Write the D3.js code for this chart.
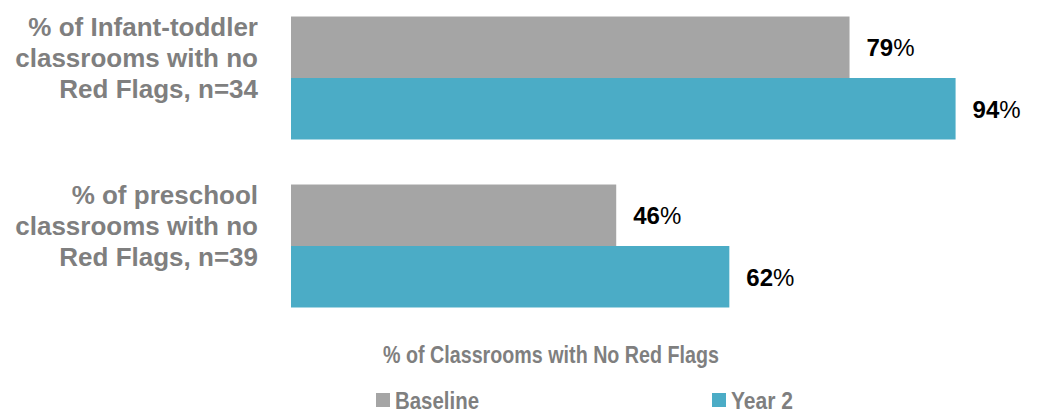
<!DOCTYPE html>
<html><head><meta charset="utf-8">
<script src="https://cdn.jsdelivr.net/npm/d3@7"></script>
<style>body{margin:0;background:#fff}svg{display:block}</style>
</head><body>
<svg id="c" width="1039" height="413"></svg>
<script>
const categories = [
  ["% of Infant-toddler", "classrooms with no", "Red Flags, n=34"],
  ["% of preschool", "classrooms with no", "Red Flags, n=39"]
];
const seriesNames = ["Baseline", "Year 2"];
const baseline = [79, 46];
const year2 = [94, 62];
const colors = ["#a5a5a5", "#4bacc6"];
const axisTitle = "% of Classrooms with No Red Flags";

const svg = d3.select("#c");
const x = d3.scaleLinear().domain([0, 100]).range([291, 998]);
const y = d3.scaleBand().domain(d3.range(categories.length)).range([-6, 330]).paddingInner(0.268).paddingOuter(0.134);
const ys = d3.scaleBand().domain(seriesNames).range([0, y.bandwidth()]);

const data = [];
categories.forEach((c, i) => {
  data.push({cat: i, s: seriesNames[0], v: baseline[i]});
  data.push({cat: i, s: seriesNames[1], v: year2[i]});
});
const color = d3.scaleOrdinal().domain(seriesNames).range(colors);

svg.selectAll("rect.bar").data(data).enter().append("rect")
  .attr("x", x(0)).attr("y", d => y(d.cat) + ys(d.s))
  .attr("width", d => x(d.v) - x(0)).attr("height", ys.bandwidth())
  .attr("fill", d => color(d.s));

const lbl = svg.selectAll("text.val").data(data).enter().append("text")
  .attr("x", d => x(d.v) + 17).attr("y", d => y(d.cat) + ys(d.s) + ys.bandwidth()/2 + 9)
  .attr("font-family", "Liberation Sans, Arial, sans-serif").attr("font-size", 24)
  .attr("fill", "#000");
lbl.append("tspan").attr("font-weight", "bold").text(d => d.v);
lbl.append("tspan").text("%");

// category labels
categories.forEach((lines, i) => {
  const cy = y(i) + y.bandwidth()/2;
  const t = svg.append("text").attr("text-anchor", "end")
    .attr("font-family", "Liberation Sans, Arial, sans-serif").attr("font-weight", "bold")
    .attr("font-size", 26).attr("fill", "#7f7f7f");
  lines.forEach((l, k) => {
    t.append("tspan").attr("x", 258).attr("y", cy - 42 + k * 31).text(l);
  });
});

svg.append("text").attr("x", 383).attr("y", 363)
  .attr("textLength", 336).attr("lengthAdjust", "spacingAndGlyphs")
  .attr("font-family", "Liberation Sans Narrow, Arial Narrow, Liberation Sans, sans-serif").attr("font-weight", "bold")
  .attr("font-size", 24).attr("fill", "#7f7f7f").text(axisTitle);

const legX = [376, 712];
const legW = [84, 62];
seriesNames.forEach((s, i) => {
  svg.append("rect").attr("x", legX[i]).attr("y", 393).attr("width", 14).attr("height", 14).attr("fill", colors[i]);
  svg.append("text").attr("x", legX[i] + 19).attr("y", 409)
    .attr("textLength", legW[i]).attr("lengthAdjust", "spacingAndGlyphs")
    .attr("font-family", "Liberation Sans Narrow, Arial Narrow, Liberation Sans, sans-serif").attr("font-weight", "bold")
    .attr("font-size", 24).attr("fill", "#7f7f7f").text(s);
});
</script>
</body></html>
